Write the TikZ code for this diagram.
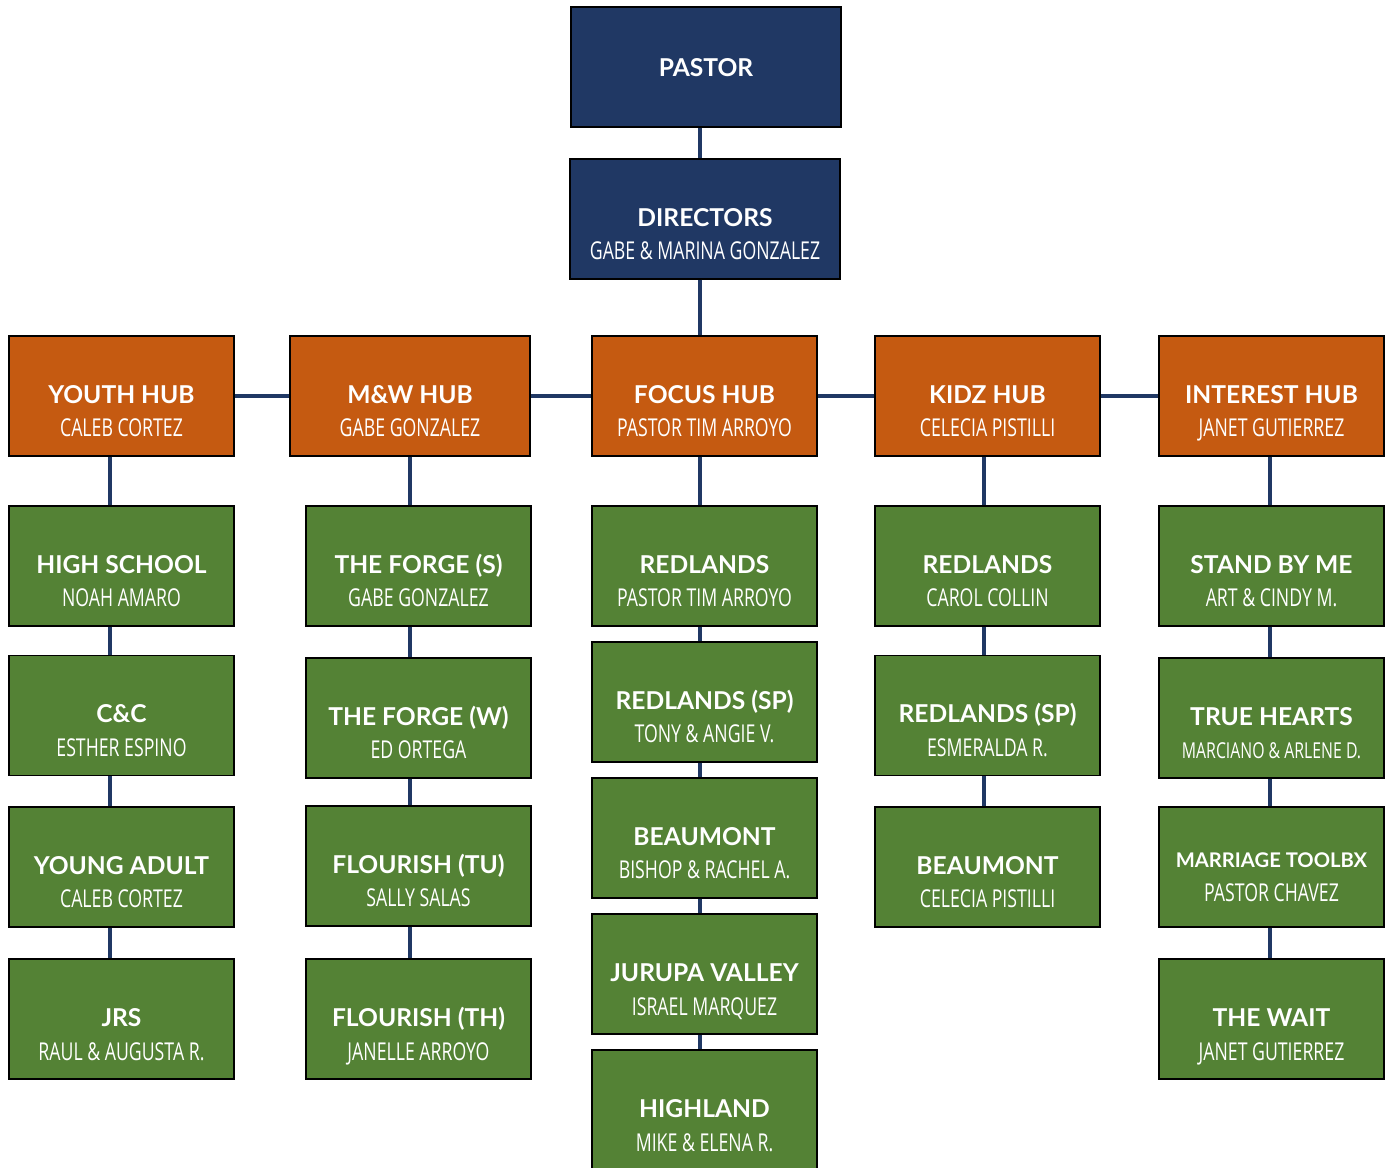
\documentclass[tikz,border=0pt]{standalone}
\usepackage{fontspec}
\setmainfont{Lato}
\newfontfamily\namefont[FakeStretch=0.72]{Open Sans}
\usepackage{xcolor}
\usepackage{tikz}
\usetikzlibrary{calc}

\definecolor{navy}{HTML}{203864}
\definecolor{hubor}{HTML}{C55A11}
\definecolor{grp}{HTML}{548235}

\newcommand{\unit}[2]{{\bfseries #1}\\{\namefont #2}}

\begin{document}
\begin{tikzpicture}[x=0.02cm, y=-0.02cm,
  box/.style={draw=black, line width=0.8pt, inner sep=0pt, align=center, text=white,
    minimum width=4.5cm, minimum height=2.4cm, text height=2.02cm, text depth=0.38cm,
    font=\fontsize{14}{19.3}\selectfont},
  lead/.style={box, fill=navy, minimum width=5.4cm},
  hub/.style={box, fill=hubor},
  group/.style={box, fill=grp},
  link/.style={navy, line width=2.1pt}]

% === Drawing region ===
\useasboundingbox (0,0) rectangle (1388,1168);

% === Line positions of the columns ===
\coordinate (top) at (700,0);
\coordinate (c1) at (110,0);
\coordinate (c2) at (410,0);
\coordinate (c3) at (700,0);
\coordinate (c4) at (984,0);
\coordinate (c5) at (1270,0);

% === Top ===
\node[lead, text height=1.4cm, text depth=1.0cm] (pastor) at (706,67) {\bfseries PASTOR};
\node[lead] (dir) at (705,219) {\unit{DIRECTORS}{GABE \& MARINA GONZALEZ}};

% === Hubs ===
\node[hub] (youth) at (121.5,396) {\unit{YOUTH HUB}{CALEB CORTEZ}};
\node[hub, minimum width=4.8cm] (mw) at (410,396) {\unit{M\&W HUB}{GABE GONZALEZ}};
\node[hub] (focus) at (704.5,396) {\unit{FOCUS HUB}{PASTOR TIM ARROYO}};
\node[hub] (kidz) at (987.5,396) {\unit{KIDZ HUB}{CELECIA PISTILLI}};
\node[hub] (interest) at (1271.5,396) {\unit{INTEREST HUB}{JANET GUTIERREZ}};

% === Youth groups ===
\node[group] (hs) at (121.5,566) {\unit{HIGH SCHOOL}{NOAH AMARO}};
\node[group] (cc) at (121.5,715.5) {\unit{C\&C}{ESTHER ESPINO}};
\node[group] (ya) at (121.5,867) {\unit{YOUNG ADULT}{CALEB CORTEZ}};
\node[group] (jrs) at (121.5,1019) {\unit{JRS}{RAUL \& AUGUSTA R.}};

% === M&W groups ===
\node[group] (forges) at (418.5,566) {\unit{THE FORGE (S)}{GABE GONZALEZ}};
\node[group] (forgew) at (418.5,718) {\unit{THE FORGE (W)}{ED ORTEGA}};
\node[group] (flotu) at (418.5,866) {\unit{FLOURISH (TU)}{SALLY SALAS}};
\node[group] (floth) at (418.5,1019) {\unit{FLOURISH (TH)}{JANELLE ARROYO}};

% === Focus groups ===
\node[group] (fred) at (704.5,566) {\unit{REDLANDS}{PASTOR TIM ARROYO}};
\node[group] (fredsp) at (704.5,702) {\unit{REDLANDS (SP)}{TONY \& ANGIE V.}};
\node[group] (fbeau) at (704.5,838) {\unit{BEAUMONT}{BISHOP \& RACHEL A.}};
\node[group] (jurupa) at (704.5,974) {\unit{JURUPA VALLEY}{ISRAEL MARQUEZ}};
\node[group] (highland) at (704.5,1110) {\unit{HIGHLAND}{MIKE \& ELENA R.}};

% === Kidz groups ===
\node[group] (kred) at (987.5,566) {\unit{REDLANDS}{CAROL COLLIN}};
\node[group] (kredsp) at (987.5,715.5) {\unit{REDLANDS (SP)}{ESMERALDA R.}};
\node[group] (kbeau) at (987.5,867) {\unit{BEAUMONT}{CELECIA PISTILLI}};

% === Interest groups ===
\node[group] (stand) at (1271.5,566) {\unit{STAND BY ME}{ART \& CINDY M.}};
\node[group] (hearts) at (1271.5,718) {\unit{TRUE HEARTS}{\fontsize{12.5}{19.3}\selectfont MARCIANO \& ARLENE D.}};
\node[group, text height=1.89cm, text depth=0.51cm] (toolbx) at (1271.5,867)
  {\unit{\fontsize{11.5}{19.3}\selectfont MARRIAGE TOOLBX}{PASTOR CHAVEZ}};
\node[group] (wait) at (1271.5,1019) {\unit{THE WAIT}{JANET GUTIERREZ}};

% === Connectors ===
\draw[link] (pastor.south -| top) -- (dir.north -| top);
\draw[link] (dir.south -| top) -- (focus.north -| top);
\foreach \a/\b in {youth/mw, mw/focus, focus/kidz, kidz/interest}
  \draw[link] (\a.east) -- (\b.west);
\foreach \a/\b in {youth/hs, hs/cc, cc/ya, ya/jrs}
  \draw[link] (\a.south -| c1) -- (\b.north -| c1);
\foreach \a/\b in {mw/forges, forges/forgew, forgew/flotu, flotu/floth}
  \draw[link] (\a.south -| c2) -- (\b.north -| c2);
\foreach \a/\b in {focus/fred, fred/fredsp, fredsp/fbeau, fbeau/jurupa, jurupa/highland}
  \draw[link] (\a.south -| c3) -- (\b.north -| c3);
\foreach \a/\b in {kidz/kred, kred/kredsp, kredsp/kbeau}
  \draw[link] (\a.south -| c4) -- (\b.north -| c4);
\foreach \a/\b in {interest/stand, stand/hearts, hearts/toolbx, toolbx/wait}
  \draw[link] (\a.south -| c5) -- (\b.north -| c5);

\end{tikzpicture}
\end{document}
